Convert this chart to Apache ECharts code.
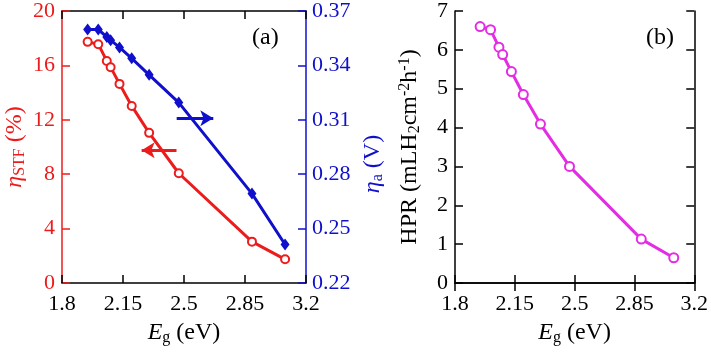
<!DOCTYPE html>
<html>
<head>
<meta charset="utf-8">
<script src="https://cdn.jsdelivr.net/npm/echarts@6/dist/echarts.min.js"></script>
<style>
  html, body { margin: 0; padding: 0; background: #fff; }
  #chart { width: 711px; height: 355px; }
</style>
</head>
<body>
<div id="chart"></div>
<script>
// band gap values (eV)
var egValues = [1.947, 2.008, 2.057, 2.079, 2.13, 2.20, 2.30, 2.47, 2.89, 3.08];
// panel (a)
var etaSTF = [17.73, 17.56, 16.33, 15.87, 14.64, 13.02, 11.04, 8.07, 3.04, 1.74];
var etaA = [0.3598, 0.3598, 0.3557, 0.3539, 0.3499, 0.3439, 0.3348, 0.3195, 0.2693, 0.2412];
// panel (b)
var hpr = [6.60, 6.52, 6.07, 5.88, 5.44, 4.85, 4.09, 3.00, 1.13, 0.65];

var xTicks = [1.8, 2.15, 2.5, 2.85, 3.2];
var etaATicks = [0.22, 0.25, 0.28, 0.31, 0.34, 0.37];

// arrows: [x start, x end, y]
var redArrow = [2.457, 2.257, 9.76];
var blueArrow = [2.458, 2.668, 0.3109];

var RED = '#ec1c1c', BLUE = '#1010cc', MAG = '#e52ce5';
var FONT = '"Liberation Serif", "Times New Roman", serif';
var TICK = 22, NAME = 24, SMALL = 16;

function zip(xs, ys) {
    return xs.map(function (x, i) { return [x, ys[i]]; });
}

var myChart = echarts.init(document.getElementById('chart'));

function xAx(grid, pos, showLabel) {
    return {
        type: 'value', gridIndex: grid, position: pos,
        min: 1.8, max: 3.2,
        name: showLabel ? '{i|E}{sub|g} (eV)' : '',
        nameLocation: 'middle', nameGap: 37,
        nameTextStyle: {
            fontFamily: FONT, fontSize: NAME, color: '#000', lineHeight: 26,
            rich: {
                i: { fontFamily: FONT, fontSize: NAME, fontStyle: 'italic', color: '#000' },
                sub: { fontFamily: FONT, fontSize: SMALL, color: '#000', verticalAlign: 'bottom', lineHeight: 8 }
            }
        },
        axisLine: { lineStyle: { color: '#000', width: 1.5 } },
        axisTick: { inside: true, length: 8, lineStyle: { color: '#000', width: 1.5 }, customValues: xTicks },
        axisLabel: { show: showLabel, customValues: xTicks, margin: 10, fontFamily: FONT, fontSize: TICK, color: '#000' },
        splitLine: { show: false }
    };
}

var option = {
    animation: false,
    textStyle: { fontFamily: FONT },
    title: [
        { text: '(a)', left: 247, top: 21, textStyle: { fontFamily: FONT, fontSize: NAME, fontWeight: 'normal', color: '#000' } },
        { text: '(b)', left: 641, top: 21, textStyle: { fontFamily: FONT, fontSize: NAME, fontWeight: 'normal', color: '#000' } }
    ],
    grid: [
        { left: 62, top: 7, width: 244, height: 276 },
        { left: 455, top: 7, width: 243, height: 276 }
    ],
    xAxis: [xAx(0, 'bottom', true), xAx(0, 'top', false), xAx(1, 'bottom', true), xAx(1, 'top', false)],
    yAxis: [
        {
            type: 'value', gridIndex: 0, position: 'left', min: 0, max: 20, interval: 4,
            name: '{i|η}{sub|STF} (%)', nameLocation: 'middle', nameGap: 34,
            nameTextStyle: {
                fontFamily: FONT, fontSize: NAME, color: RED, lineHeight: 26,
                rich: {
                    i: { fontFamily: FONT, fontSize: NAME, fontStyle: 'italic', color: RED },
                    sub: { fontFamily: FONT, fontSize: SMALL, color: RED, verticalAlign: 'bottom', lineHeight: 8 }
                }
            },
            axisLine: { lineStyle: { color: RED, width: 1.5 } },
            axisTick: { inside: true, length: 8, lineStyle: { color: RED, width: 1.5 } },
            axisLabel: { margin: 7, fontFamily: FONT, fontSize: TICK, color: RED },
            splitLine: { show: false }
        },
        {
            type: 'value', gridIndex: 0, position: 'right', min: 0.22, max: 0.37,
            name: '{i|η}{sub|a} (V)', nameLocation: 'middle', nameGap: 54, nameRotate: 90,
            nameTextStyle: {
                fontFamily: FONT, fontSize: NAME, color: BLUE, lineHeight: 26, padding: [0, 34, 0, 0],
                rich: {
                    i: { fontFamily: FONT, fontSize: NAME, fontStyle: 'italic', color: BLUE },
                    sub: { fontFamily: FONT, fontSize: SMALL, color: BLUE, verticalAlign: 'bottom', lineHeight: 8 }
                }
            },
            axisLine: { lineStyle: { color: BLUE, width: 1.5 } },
            axisTick: { inside: true, length: 8, lineStyle: { color: BLUE, width: 1.5 }, customValues: etaATicks },
            axisLabel: { customValues: etaATicks, margin: 6, fontFamily: FONT, fontSize: TICK, color: BLUE,
                formatter: function (v) { return v.toFixed(2); } },
            splitLine: { show: false }
        },
        {
            type: 'value', gridIndex: 1, position: 'left', min: 0, max: 7, interval: 1,
            name: 'HPR (mLH{sub|2}cm{sup|-2}h{sup|-1})', nameLocation: 'middle', nameGap: 32,
            nameTextStyle: {
                fontFamily: FONT, fontSize: NAME, color: '#000', lineHeight: 26,
                rich: {
                    sub: { fontFamily: FONT, fontSize: SMALL, color: '#000', verticalAlign: 'bottom', lineHeight: 8 },
                    sup: { fontFamily: FONT, fontSize: SMALL, color: '#000', verticalAlign: 'top', lineHeight: 8 }
                }
            },
            axisLine: { lineStyle: { color: '#000', width: 1.5 } },
            axisTick: { inside: true, length: 8, lineStyle: { color: '#000', width: 1.5 } },
            axisLabel: { margin: 7, fontFamily: FONT, fontSize: TICK, color: '#000' },
            splitLine: { show: false }
        },
        {
            type: 'value', gridIndex: 1, position: 'right', min: 0, max: 7, interval: 1,
            axisLine: { lineStyle: { color: '#000', width: 1.5 } },
            axisTick: { inside: true, length: 8, lineStyle: { color: '#000', width: 1.5 } },
            axisLabel: { show: false },
            splitLine: { show: false }
        }
    ],
    series: [
        {
            type: 'line', xAxisIndex: 0, yAxisIndex: 0, data: zip(egValues, etaSTF),
            symbol: 'emptyCircle', symbolSize: 8,
            lineStyle: { color: RED, width: 3 }, itemStyle: { color: RED, borderWidth: 2.5 },
            markLine: {
                silent: true, symbol: ['none', 'arrow'], symbolSize: [12, 13],
                label: { show: false }, lineStyle: { color: RED, width: 3, type: 'solid' },
                data: [[{ coord: [redArrow[0], redArrow[2]] }, { coord: [redArrow[1], redArrow[2]] }]]
            }
        },
        {
            type: 'line', xAxisIndex: 0, yAxisIndex: 1, data: zip(egValues, etaA),
            symbol: 'diamond', symbolSize: [9, 12],
            lineStyle: { color: BLUE, width: 3 }, itemStyle: { color: BLUE },
            markLine: {
                silent: true, symbol: ['none', 'arrow'], symbolSize: [12, 13],
                label: { show: false }, lineStyle: { color: BLUE, width: 3, type: 'solid' },
                data: [[{ coord: [blueArrow[0], blueArrow[2]] }, { coord: [blueArrow[1], blueArrow[2]] }]]
            }
        },
        {
            type: 'line', xAxisIndex: 2, yAxisIndex: 2, data: zip(egValues, hpr),
            symbol: 'emptyCircle', symbolSize: 9,
            lineStyle: { color: MAG, width: 3 }, itemStyle: { color: MAG, borderWidth: 3 }
        }
    ]
};

myChart.setOption(option);
</script>
</body>
</html>
